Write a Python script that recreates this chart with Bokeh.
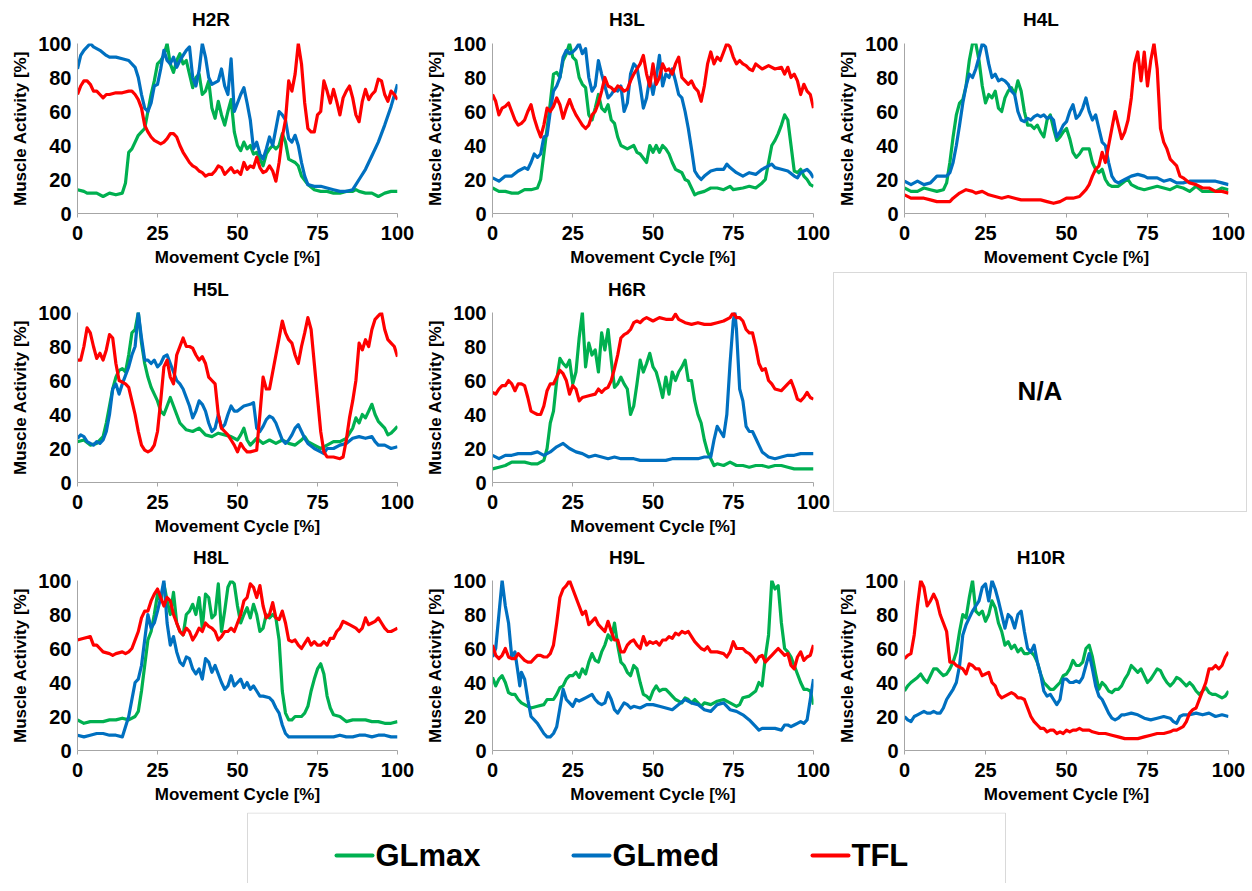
from bokeh.plotting import figure
from bokeh.layouts import column, row
from bokeh.models import Range1d, FixedTicker, Div
from bokeh.embed import file_html
from bokeh.resources import INLINE
from bokeh.core.properties import value

SERIES = ["GLmax", "GLmed", "TFL"]
COLORS = ["#00b050", "#0070c0", "#ff0000"]
X_TICKS = [0, 25, 50, 75, 100]
Y_TICKS = [0, 20, 40, 60, 80, 100]
X_LABEL = "Movement Cycle [%]"
Y_LABEL = "Muscle Activity [%]"
NA_TEXT = "N/A"

# ---- data: (movement cycle %, muscle activity %) ----
H2R_GLMAX = [(0,14),(2,13),(3,12),(6,12),(8,10),(10,12),(12,11),(14,12),(15,18),(16,36),(17,38),(18,42),(19,46),(20,48),(21,50),(22,60),(23,70),(24,78),(25,88),(26,90),(27,93),(28,100),(29,88),(30,83),(31,90),(32,94),(33,88),(34,90),(35,82),(36,74),(37,80),(38,82),(39,70),(40,72),(41,78),(42,62),(43,56),(44,66),(45,58),(46,52),(47,60),(48,67),(49,48),(50,40),(51,37),(52,42),(53,38),(54,40),(55,35),(56,36),(57,32),(58,28),(59,35),(60,38),(61,40),(62,38),(63,40),(64,47),(65,42),(66,32),(67,31),(68,30),(69,28),(70,22),(72,17),(74,14),(76,13),(78,13),(80,12),(82,12),(84,13),(86,13),(87,14),(88,13),(90,12),(92,12),(94,10),(95,11),(96,12),(98,13),(100,13)]
H2R_GLMED = [(0,85),(1,93),(2,96),(4,100),(5,98),(7,96),(9,93),(10,92),(12,92),(14,91),(16,90),(18,86),(19,80),(20,70),(21,62),(22,60),(23,65),(24,75),(25,76),(26,85),(27,96),(28,90),(29,88),(30,92),(31,86),(32,90),(33,93),(34,96),(35,98),(36,80),(37,75),(38,84),(39,100),(40,92),(41,80),(42,76),(43,77),(44,78),(45,85),(46,75),(47,70),(48,91),(49,60),(50,65),(51,70),(52,74),(53,65),(54,55),(55,38),(56,42),(57,35),(58,32),(59,38),(60,45),(61,40),(62,50),(63,60),(64,58),(65,55),(66,44),(67,42),(68,46),(69,40),(70,30),(71,22),(72,17),(74,16),(76,16),(78,15),(80,14),(82,13),(84,13),(86,14),(88,20),(90,26),(92,34),(94,42),(96,52),(98,63),(100,76)]
H2R_TFL = [(0,70),(1,75),(2,78),(3,78),(4,76),(5,72),(6,72),(7,70),(8,68),(9,70),(10,70),(12,71),(14,71),(16,72),(17,72),(18,70),(19,67),(20,62),(21,52),(22,48),(23,45),(24,43),(25,42),(26,41),(27,42),(28,44),(29,47),(30,47),(31,45),(32,40),(33,36),(34,33),(35,30),(36,28),(37,27),(38,25),(39,24),(40,22),(41,23),(42,23),(43,25),(44,28),(45,27),(46,23),(47,25),(48,27),(49,24),(50,25),(51,23),(52,30),(53,26),(54,28),(55,27),(56,33),(57,27),(58,24),(59,25),(60,28),(61,25),(62,19),(63,30),(64,45),(65,55),(66,78),(67,72),(68,82),(69,100),(70,88),(71,65),(72,50),(73,48),(74,48),(75,58),(76,60),(77,78),(78,72),(79,65),(80,73),(81,66),(82,58),(83,68),(84,72),(85,75),(86,68),(87,58),(88,54),(89,66),(90,73),(91,67),(92,70),(93,72),(94,79),(95,78),(96,70),(97,66),(98,72),(99,70),(100,67)]

H3L_GLMAX = [(0,15),(2,13),(4,13),(6,12),(8,12),(10,14),(12,14),(14,15),(15,20),(16,35),(17,50),(18,65),(19,82),(20,83),(21,80),(22,90),(23,94),(24,100),(25,92),(26,90),(27,80),(28,76),(29,74),(30,58),(31,55),(32,62),(33,70),(34,62),(35,60),(36,64),(37,55),(38,53),(39,45),(40,40),(42,38),(44,40),(45,36),(46,35),(48,30),(49,40),(50,36),(51,40),(52,36),(53,40),(54,38),(55,35),(56,30),(57,26),(58,25),(59,24),(60,20),(61,19),(62,15),(63,11),(64,12),(66,13),(68,15),(70,15),(72,14),(74,16),(75,14),(78,15),(80,16),(82,15),(84,18),(85,20),(86,30),(87,40),(88,43),(89,47),(90,52),(91,58),(92,55),(93,40),(94,25),(95,24),(96,26),(97,22),(98,20),(99,17),(100,16)]
H3L_GLMED = [(0,21),(2,19),(4,22),(6,22),(8,25),(10,27),(11,26),(12,30),(13,35),(14,33),(15,35),(16,45),(17,46),(18,60),(19,72),(20,75),(21,80),(22,92),(23,96),(24,94),(25,95),(26,97),(27,100),(28,94),(29,97),(30,80),(31,72),(32,75),(33,90),(34,82),(35,75),(36,68),(37,70),(38,73),(39,72),(40,75),(41,60),(42,65),(43,82),(44,88),(45,86),(46,75),(47,62),(48,68),(49,80),(50,70),(51,80),(52,93),(53,75),(54,82),(55,80),(56,85),(57,78),(58,70),(59,68),(60,60),(61,50),(62,38),(63,25),(64,22),(65,20),(66,22),(68,25),(70,26),(72,26),(73,29),(74,27),(76,24),(78,22),(80,24),(82,23),(84,26),(86,28),(87,29),(88,27),(90,26),(92,25),(94,22),(95,21),(96,24),(97,25),(98,26),(99,24),(100,21)]
H3L_TFL = [(0,70),(1,66),(2,58),(3,62),(4,63),(5,65),(6,60),(7,55),(8,52),(9,53),(10,55),(11,60),(12,64),(13,56),(14,50),(15,45),(16,52),(17,62),(18,60),(19,63),(20,68),(21,64),(22,56),(23,62),(24,67),(25,62),(26,58),(27,55),(28,52),(29,50),(30,52),(31,58),(32,60),(33,65),(34,72),(35,80),(36,75),(37,74),(38,72),(39,75),(40,74),(41,72),(42,73),(43,78),(44,82),(45,85),(46,88),(47,93),(48,82),(49,75),(50,88),(51,76),(52,80),(53,88),(54,84),(55,85),(56,82),(57,88),(58,92),(59,80),(60,78),(61,76),(62,78),(63,74),(64,72),(65,66),(66,75),(67,88),(68,95),(69,88),(70,92),(71,90),(72,95),(73,100),(74,98),(75,92),(76,88),(77,90),(78,88),(79,87),(80,85),(81,84),(82,88),(84,85),(86,87),(88,85),(90,86),(91,82),(92,86),(93,80),(94,82),(95,78),(96,70),(97,76),(98,72),(99,70),(100,62)]

H4L_GLMAX = [(0,15),(2,13),(4,13),(6,15),(8,14),(10,13),(12,14),(13,18),(14,30),(15,45),(16,58),(17,65),(18,67),(19,75),(20,90),(21,100),(22,100),(23,90),(24,75),(25,65),(26,70),(27,68),(28,72),(29,62),(30,60),(31,68),(32,72),(33,74),(34,70),(35,78),(36,72),(37,60),(38,52),(39,52),(40,50),(41,52),(42,48),(43,45),(44,55),(45,58),(46,50),(47,43),(48,45),(49,48),(50,50),(51,44),(52,36),(53,33),(54,35),(55,38),(56,38),(57,38),(58,30),(59,26),(60,24),(61,26),(62,20),(63,17),(64,16),(66,16),(68,19),(69,20),(70,17),(72,15),(74,14),(76,15),(78,16),(80,15),(82,14),(84,16),(86,15),(88,13),(90,16),(92,13),(94,13),(96,13),(98,15),(100,14)]
H4L_GLMED = [(0,19),(2,17),(4,19),(6,17),(8,18),(10,22),(12,22),(13,22),(14,24),(15,30),(16,40),(17,52),(18,65),(19,75),(20,82),(21,80),(22,85),(23,92),(24,100),(25,98),(26,88),(27,80),(28,82),(29,78),(30,79),(31,78),(32,76),(33,72),(34,70),(35,60),(36,55),(37,54),(38,56),(39,55),(40,57),(41,58),(42,57),(43,58),(44,56),(45,57),(46,55),(47,45),(48,48),(49,52),(50,54),(51,60),(52,64),(53,56),(54,58),(55,62),(56,68),(57,60),(58,55),(59,58),(60,50),(61,42),(62,40),(63,30),(64,22),(65,19),(66,18),(68,20),(70,22),(72,23),(74,22),(75,21),(78,21),(80,19),(82,20),(84,18),(86,18),(88,19),(90,19),(92,19),(94,19),(96,19),(98,18),(100,17)]
H4L_TFL = [(0,11),(2,9),(4,9),(6,9),(8,8),(10,7),(12,7),(14,7),(15,9),(17,12),(19,14),(21,13),(22,12),(24,13),(26,11),(28,10),(30,9),(32,10),(34,9),(36,8),(38,8),(40,8),(42,8),(44,7),(46,6),(48,7),(50,9),(52,9),(54,10),(55,12),(56,14),(57,17),(58,22),(59,26),(60,28),(61,36),(62,30),(63,40),(64,50),(65,60),(66,52),(67,44),(68,48),(69,55),(70,68),(71,88),(72,95),(73,78),(74,95),(75,75),(76,90),(77,100),(78,85),(79,50),(80,42),(81,38),(82,32),(83,30),(84,28),(85,22),(86,21),(88,18),(90,17),(92,15),(94,15),(96,13),(98,13),(100,12)]

H5L_GLMAX = [(0,24),(2,25),(4,22),(6,23),(8,27),(9,35),(10,45),(11,55),(12,62),(13,66),(14,67),(15,65),(16,75),(17,88),(18,90),(19,100),(20,82),(21,70),(22,62),(23,56),(24,52),(25,48),(26,42),(27,40),(28,45),(29,50),(30,45),(31,40),(32,35),(34,31),(36,30),(38,32),(40,28),(42,27),(44,29),(46,28),(48,27),(50,25),(51,28),(52,32),(53,25),(54,22),(56,26),(58,23),(60,25),(62,23),(64,25),(66,23),(68,22),(70,25),(71,27),(72,24),(74,22),(76,20),(78,22),(80,24),(82,24),(84,26),(86,32),(87,38),(88,35),(89,40),(90,38),(91,42),(92,46),(93,40),(94,36),(96,32),(97,28),(98,29),(99,31),(100,33)]
H5L_GLMED = [(0,26),(1,28),(2,27),(3,24),(4,23),(5,22),(6,24),(7,23),(8,25),(9,30),(10,40),(11,55),(12,58),(13,52),(14,58),(15,63),(16,68),(17,75),(18,80),(19,100),(20,85),(21,72),(22,72),(23,70),(24,72),(25,68),(26,70),(27,74),(28,75),(29,70),(30,65),(31,60),(32,58),(33,55),(34,50),(35,45),(36,38),(37,42),(38,48),(39,46),(40,42),(41,35),(42,30),(43,32),(44,40),(45,32),(46,34),(47,40),(48,45),(49,42),(50,42),(52,45),(54,46),(55,47),(56,32),(57,30),(58,33),(59,37),(60,39),(61,38),(62,35),(63,30),(64,25),(65,23),(66,25),(67,28),(68,32),(69,34),(70,30),(71,26),(72,23),(74,20),(76,18),(77,17),(78,20),(80,20),(82,22),(84,23),(86,26),(88,27),(90,26),(92,27),(93,24),(94,22),(96,22),(98,20),(100,21)]
H5L_TFL = [(0,72),(1,72),(2,80),(3,91),(4,88),(5,80),(6,73),(7,76),(8,72),(9,78),(10,87),(11,85),(12,70),(13,60),(14,59),(15,58),(16,56),(17,48),(18,40),(19,30),(20,22),(21,19),(22,18),(23,19),(24,22),(25,30),(26,48),(27,68),(28,72),(29,62),(30,58),(31,75),(32,80),(33,85),(34,80),(35,80),(36,79),(37,75),(38,72),(39,74),(40,70),(41,62),(42,60),(43,58),(44,40),(45,32),(46,30),(47,28),(48,25),(49,22),(50,18),(51,23),(52,20),(53,18),(54,18),(56,19),(57,40),(58,62),(59,55),(60,55),(61,65),(62,75),(63,85),(64,95),(65,88),(66,84),(67,82),(68,75),(69,70),(70,80),(71,88),(72,97),(73,90),(74,70),(75,50),(76,30),(77,18),(78,15),(80,15),(82,14),(83,15),(84,25),(85,38),(86,48),(87,60),(88,82),(89,78),(90,84),(91,80),(92,90),(93,96),(94,98),(95,100),(96,90),(97,84),(98,82),(99,80),(100,74)]

H6R_GLMAX = [(0,8),(2,9),(4,10),(6,12),(8,12),(10,12),(12,11),(14,11),(16,13),(17,20),(18,35),(19,42),(20,60),(21,73),(22,70),(23,68),(24,72),(25,58),(26,65),(27,85),(28,100),(29,68),(30,82),(31,75),(32,78),(33,65),(34,88),(35,78),(36,90),(37,72),(38,56),(39,58),(40,62),(41,58),(42,55),(43,40),(44,45),(45,58),(46,72),(47,65),(48,70),(49,76),(50,68),(51,65),(52,58),(53,50),(54,62),(55,52),(56,65),(57,60),(58,65),(59,68),(60,72),(61,60),(62,60),(63,48),(64,40),(65,35),(66,25),(67,18),(68,14),(69,10),(70,11),(72,10),(74,12),(76,10),(78,10),(80,9),(82,10),(84,10),(86,9),(88,10),(90,10),(92,9),(94,8),(96,8),(98,8),(100,8)]
H6R_GLMED = [(0,16),(2,14),(4,16),(6,16),(8,17),(10,17),(12,17),(14,18),(16,16),(18,18),(20,21),(22,23),(24,20),(26,18),(28,17),(30,15),(32,16),(34,15),(36,14),(38,15),(40,14),(42,14),(44,14),(46,13),(48,13),(50,13),(52,13),(54,13),(56,14),(58,14),(60,14),(62,14),(64,14),(66,15),(68,15),(69,25),(70,33),(71,30),(72,27),(73,40),(74,70),(75,95),(75.5,100),(76,90),(77,55),(78,48),(79,33),(80,30),(81,30),(82,26),(83,22),(84,18),(86,15),(88,14),(90,15),(92,16),(94,16),(96,17),(98,17),(100,17)]
H6R_TFL = [(0,53),(1,52),(2,55),(3,57),(4,57),(5,60),(6,58),(7,54),(8,58),(9,58),(10,57),(11,50),(12,42),(13,41),(14,40),(15,40),(16,45),(17,54),(18,58),(19,58),(20,62),(21,66),(22,64),(23,60),(24,52),(25,57),(26,55),(27,48),(28,50),(30,51),(32,52),(33,55),(34,53),(35,55),(36,56),(37,60),(38,67),(39,75),(40,85),(41,87),(42,88),(43,90),(44,94),(45,95),(46,94),(47,96),(48,97),(50,95),(52,97),(54,96),(56,96),(57,99),(58,96),(60,94),(62,93),(64,94),(66,93),(68,93),(70,94),(72,95),(74,97),(75,100),(76,97),(77,97),(78,95),(79,90),(80,88),(81,88),(82,80),(83,70),(84,66),(85,67),(86,60),(87,58),(88,55),(90,54),(92,58),(93,60),(94,55),(95,49),(96,48),(97,50),(98,53),(99,50),(100,49)]

H8L_GLMAX = [(0,18),(2,16),(4,17),(6,17),(8,17),(10,18),(12,18),(14,19),(16,18),(18,20),(19,23),(20,35),(21,50),(22,65),(23,70),(24,80),(25,92),(26,88),(27,98),(28,88),(29,80),(30,93),(31,75),(32,70),(33,68),(34,80),(35,82),(36,86),(37,80),(38,90),(39,72),(40,92),(41,90),(42,78),(43,80),(44,98),(45,70),(46,82),(47,96),(48,100),(49,98),(50,85),(51,75),(52,80),(53,84),(54,78),(55,86),(56,80),(57,70),(58,72),(59,80),(60,78),(61,80),(62,78),(63,65),(64,35),(65,22),(66,18),(67,18),(68,20),(70,20),(71,22),(72,26),(73,35),(74,42),(75,48),(76,51),(77,45),(78,32),(79,25),(80,21),(82,20),(84,17),(86,18),(88,18),(90,18),(92,17),(94,17),(96,16),(98,16),(100,17)]
H8L_GLMED = [(0,9),(2,8),(4,9),(6,10),(8,10),(10,9),(12,9),(14,8),(15,14),(16,20),(17,30),(18,40),(19,42),(20,50),(21,65),(22,80),(23,72),(24,75),(25,82),(26,90),(27,100),(28,75),(29,62),(30,67),(31,58),(32,52),(33,50),(34,55),(35,54),(36,48),(37,45),(38,48),(39,42),(40,54),(41,52),(42,46),(43,50),(44,45),(45,40),(46,36),(47,38),(48,44),(49,38),(50,40),(51,42),(52,37),(53,40),(54,36),(55,38),(56,35),(57,32),(58,32),(60,31),(61,29),(62,25),(63,22),(64,15),(65,10),(66,8),(68,8),(70,8),(72,8),(74,8),(76,8),(78,8),(80,8),(82,9),(84,8),(86,8),(88,9),(90,9),(92,8),(94,9),(96,9),(98,8),(100,8)]
H8L_TFL = [(0,65),(2,66),(4,67),(5,62),(6,62),(7,60),(8,58),(10,57),(11,56),(12,57),(14,58),(15,57),(16,58),(17,60),(18,65),(19,70),(20,78),(21,82),(22,82),(23,88),(24,92),(25,95),(26,90),(27,85),(28,90),(29,88),(30,80),(31,75),(32,70),(33,68),(34,72),(35,70),(36,65),(37,68),(38,72),(39,70),(40,75),(41,73),(42,72),(43,70),(44,65),(45,67),(46,70),(47,70),(48,72),(49,70),(50,75),(51,80),(52,88),(53,90),(54,98),(55,96),(56,90),(57,97),(58,85),(59,78),(60,80),(61,87),(62,78),(63,77),(64,82),(65,75),(66,65),(67,64),(68,65),(69,62),(70,60),(71,63),(72,66),(73,62),(74,64),(75,62),(76,62),(77,64),(78,62),(79,66),(80,66),(81,70),(82,72),(83,76),(84,75),(85,74),(86,73),(87,72),(88,70),(89,72),(90,78),(91,74),(92,75),(93,76),(94,78),(95,75),(96,72),(97,70),(98,70),(99,71),(100,72)]

H9L_GLMAX = [(0,43),(1,38),(2,42),(3,44),(4,40),(5,34),(6,33),(7,33),(8,30),(9,28),(10,27),(12,25),(14,26),(16,27),(17,30),(19,30),(20,33),(21,37),(22,38),(23,42),(24,44),(25,44),(26,46),(27,43),(28,48),(29,45),(30,52),(31,57),(32,53),(33,52),(34,58),(35,62),(36,68),(37,65),(38,75),(39,62),(40,52),(41,50),(42,46),(43,44),(44,50),(45,48),(46,40),(47,33),(48,32),(49,30),(50,35),(51,38),(52,35),(53,36),(54,36),(55,34),(56,32),(57,30),(58,29),(59,28),(60,31),(61,30),(62,28),(63,30),(64,28),(65,26),(66,28),(68,27),(70,29),(72,30),(74,28),(76,26),(77,27),(78,31),(80,32),(82,35),(83,40),(84,38),(85,55),(86,68),(87,100),(88,95),(89,97),(90,75),(91,60),(92,58),(93,55),(94,50),(95,45),(96,40),(97,36),(98,36),(99,35),(100,27)]
H9L_GLMED = [(0,55),(1,60),(2,80),(3,100),(4,85),(5,75),(6,55),(7,58),(8,45),(8.5,38),(9,46),(10,42),(11,30),(12,20),(13,18),(14,16),(15,13),(16,10),(17,8),(18,8),(19,10),(20,14),(21,25),(22,36),(23,30),(24,28),(25,26),(26,30),(27,29),(28,30),(29,31),(30,32),(31,33),(32,30),(33,28),(34,27),(35,28),(36,34),(37,30),(38,24),(39,22),(40,25),(41,28),(42,27),(43,25),(44,26),(46,25),(48,27),(50,27),(52,26),(54,25),(56,24),(58,27),(60,30),(62,28),(64,27),(66,24),(68,23),(70,27),(72,28),(74,24),(76,23),(78,21),(80,18),(82,14),(83,12),(84,13),(86,13),(88,13),(90,12),(91,15),(92,15),(93,14),(94,15),(95,16),(96,17),(97,16),(98,18),(99,30),(100,42)]
H9L_TFL = [(0,62),(1,56),(2,54),(3,56),(4,60),(5,55),(6,54),(7,54),(8,57),(9,55),(10,53),(11,52),(12,52),(13,54),(14,56),(15,56),(16,55),(17,55),(18,57),(19,62),(20,75),(21,90),(22,95),(23,97),(24,100),(25,95),(26,90),(27,85),(28,80),(29,82),(30,74),(31,76),(32,78),(33,74),(34,72),(35,70),(36,76),(37,70),(38,65),(39,65),(40,58),(41,58),(42,62),(43,64),(44,65),(45,62),(46,60),(47,67),(48,62),(49,64),(50,63),(51,64),(52,62),(53,65),(54,65),(55,67),(56,66),(57,69),(58,68),(59,70),(60,69),(61,70),(62,67),(63,64),(64,62),(65,60),(66,59),(67,61),(68,58),(70,58),(72,57),(73,55),(74,58),(75,64),(76,60),(78,60),(79,58),(80,57),(81,55),(82,52),(83,55),(84,56),(85,52),(86,54),(87,56),(88,58),(89,60),(90,58),(91,56),(92,57),(93,50),(94,48),(95,55),(96,58),(97,53),(98,55),(99,56),(100,62)]

H10R_GLMAX = [(0,35),(1,38),(2,40),(4,43),(5,45),(6,42),(7,40),(8,44),(9,48),(10,48),(11,46),(12,44),(13,45),(14,48),(15,52),(16,58),(17,70),(18,80),(19,78),(20,90),(21,100),(22,82),(23,80),(24,82),(25,76),(26,80),(27,88),(28,84),(29,75),(30,70),(31,62),(32,64),(33,60),(34,62),(35,58),(36,60),(37,57),(38,57),(39,58),(40,56),(41,52),(42,45),(43,40),(44,38),(45,36),(46,36),(47,38),(48,40),(49,44),(50,45),(51,48),(52,53),(53,50),(54,50),(55,52),(56,60),(57,62),(58,55),(59,45),(60,36),(61,40),(62,38),(63,35),(64,34),(65,36),(66,36),(67,38),(68,42),(69,45),(70,50),(71,48),(72,46),(73,48),(74,44),(75,40),(76,42),(77,45),(78,48),(79,47),(80,43),(81,40),(82,38),(83,40),(84,43),(85,42),(86,40),(87,38),(88,40),(89,38),(90,35),(91,33),(92,35),(93,37),(94,34),(95,33),(96,33),(97,32),(98,31),(99,32),(100,35)]
H10R_GLMED = [(0,20),(1,18),(2,17),(3,20),(4,21),(5,22),(6,23),(7,22),(8,22),(9,23),(10,22),(11,22),(12,25),(13,30),(14,33),(15,36),(16,40),(17,50),(18,68),(19,74),(20,78),(21,82),(22,85),(23,88),(24,96),(25,98),(26,88),(27,100),(28,95),(29,88),(30,80),(31,72),(32,80),(33,78),(34,72),(35,80),(36,82),(37,70),(38,60),(39,58),(40,62),(41,52),(42,45),(43,35),(44,32),(45,33),(46,30),(47,27),(48,30),(49,42),(50,42),(51,40),(52,40),(53,41),(54,40),(55,43),(56,50),(57,57),(58,48),(59,38),(60,32),(61,30),(62,26),(63,22),(64,19),(65,18),(66,19),(67,21),(68,21),(70,22),(72,21),(74,19),(76,18),(78,19),(80,20),(82,19),(83,17),(84,16),(85,20),(86,21),(88,21),(90,22),(92,21),(94,22),(96,20),(98,21),(100,20)]
H10R_TFL = [(0,54),(1,56),(2,57),(3,68),(4,85),(5,100),(6,96),(7,85),(8,88),(9,92),(10,88),(11,80),(12,75),(13,70),(14,52),(15,52),(16,50),(17,49),(18,48),(19,45),(20,51),(21,50),(22,48),(23,48),(24,44),(25,45),(26,46),(27,40),(28,38),(29,33),(30,31),(31,32),(32,33),(33,34),(34,33),(35,31),(36,31),(37,30),(38,25),(39,20),(40,17),(41,15),(42,13),(43,13),(44,11),(45,12),(46,12),(47,10),(48,11),(49,10),(50,12),(51,11),(52,12),(53,12),(54,13),(55,12),(56,12),(57,12),(58,11),(60,10),(62,10),(64,9),(66,8),(68,7),(70,7),(72,7),(74,8),(76,9),(78,10),(80,10),(82,11),(83,12),(84,12),(86,14),(87,17),(88,22),(89,24),(90,25),(91,30),(92,35),(93,40),(94,48),(95,48),(96,50),(97,48),(98,50),(99,55),(100,58)]

FONT = "Liberation Sans"
AXIS_GRAY = "#a6a6a6"
ROW_H = 268
FRAME_H = 170
COL_W = [415, 410, 417]
FRAME_L = [65, 65, 71]
FRAME_R = [389, 390, 395]
TITLE_CX = [203, 204, 208]   # title centre within each column (px)


def make_panel(name, data, col, frame_top, title_cy, title_h):
    w = COL_W[col]
    fh = ROW_H - title_h
    top = frame_top - title_h
    title = Div(text=('<div style="width:%dpx;height:%dpx;line-height:%dpx;text-align:center;'
                      'font-family:\'Liberation Sans\',Arial,sans-serif;font-weight:bold;'
                      'font-size:19px;color:#000000;white-space:nowrap;">%s</div>')
                % (2 * TITLE_CX[col], title_h, 2 * title_cy, name),
                width=w, height=title_h, margin=0)
    p = figure(width=w, height=fh, x_range=Range1d(0, 100), y_range=Range1d(0, 100),
               output_backend="svg", toolbar_location=None,
               min_border_left=FRAME_L[col], min_border_right=w - FRAME_R[col],
               min_border_top=top, min_border_bottom=fh - top - FRAME_H)
    p.outline_line_color = None
    p.xgrid.visible = False
    p.ygrid.visible = False
    p.background_fill_color = "white"
    p.border_fill_color = "white"
    p.xaxis.ticker = FixedTicker(ticks=X_TICKS)
    p.yaxis.ticker = FixedTicker(ticks=Y_TICKS)
    p.xaxis.axis_label = X_LABEL
    p.yaxis.axis_label = Y_LABEL
    for ax in (p.xaxis, p.yaxis):
        ax.axis_line_color = AXIS_GRAY
        ax.axis_line_width = 1
        ax.major_tick_line_color = AXIS_GRAY
        ax.minor_tick_line_color = None
        ax.major_label_text_font = FONT
        ax.major_label_text_font_size = "20px"
        ax.major_label_text_font_style = "bold"
        ax.major_label_text_color = "#000000"
        ax.axis_label_text_font = FONT
        ax.axis_label_text_font_size = "17px"
        ax.axis_label_text_font_style = "bold"
        ax.axis_label_text_color = "#000000"
    p.xaxis.major_tick_out = 4
    p.xaxis.major_tick_in = 0
    p.xaxis.major_label_standoff = 8
    p.xaxis.axis_label_standoff = 5
    p.yaxis.major_tick_out = 0
    p.yaxis.major_tick_in = 0
    p.yaxis.major_label_standoff = 6
    p.yaxis.axis_label_standoff = 5
    for (pts, color) in zip(data, COLORS):
        xs = [a for a, b in pts]
        ys = [b for a, b in pts]
        p.line(xs, ys, line_color=color, line_width=3.2, line_join="round")
    return column(title, p, spacing=0, margin=0)


p1 = make_panel("H2R", (H2R_GLMAX, H2R_GLMED, H2R_TFL), 0, 35, 12, 20)
p2 = make_panel("H3L", (H3L_GLMAX, H3L_GLMED, H3L_TFL), 1, 35, 12, 20)
p3 = make_panel("H4L", (H4L_GLMAX, H4L_GLMED, H4L_TFL), 2, 35, 12, 20)
p4 = make_panel("H5L", (H5L_GLMAX, H5L_GLMED, H5L_TFL), 0, 36, 14, 22)
p5 = make_panel("H6R", (H6R_GLMAX, H6R_GLMED, H6R_TFL), 1, 36, 14, 22)
p7 = make_panel("H8L", (H8L_GLMAX, H8L_GLMED, H8L_TFL), 0, 36, 14, 22)
p8 = make_panel("H9L", (H9L_GLMAX, H9L_GLMED, H9L_TFL), 1, 36, 14, 22)
p9 = make_panel("H10R", (H10R_GLMAX, H10R_GLMED, H10R_TFL), 2, 36, 14, 22)

# N/A placeholder panel (no data for this subject)
na_html = ('<div style="box-sizing:border-box;width:414px;height:240px;margin-top:-4px;'
           'border:1px solid #d9d9d9;display:flex;align-items:center;justify-content:center;'
           'font-family:\'Liberation Sans\',Arial,sans-serif;font-weight:bold;font-size:26px;'
           'color:#000000;background:#ffffff;">' + NA_TEXT + '</div>')
pna = Div(text=na_html, width=COL_W[2], height=ROW_H, margin=0)

# legend strip
LW = sum(COL_W)
LH = 71
leg = figure(width=LW, height=LH, x_range=Range1d(0, LW), y_range=Range1d(0, LH),
             output_backend="svg", toolbar_location=None, x_axis_type=None, y_axis_type=None,
             min_border=0)
leg.outline_line_color = None
leg.xgrid.visible = False
leg.ygrid.visible = False
leg.line([239, 239, 997, 997], [-20, 70.5, 70.5, -20], line_color="#d9d9d9", line_width=1)
SW_X = [328, 565, 804]
for name, color, x0 in zip(SERIES, COLORS, SW_X):
    leg.line([x0, x0 + 36], [28, 28], line_color=color, line_width=4, line_cap="round")
    leg.text(x=[x0 + 39], y=[28], text=[name], text_font=value(FONT), text_font_size="31px",
             text_font_style="bold", text_color="#000000", text_align="left", text_baseline="middle")

layout = column(row(p1, p2, p3, spacing=0), row(p4, p5, pna, spacing=0),
                row(p7, p8, p9, spacing=0), leg, spacing=0)
layout.margin = (8, 0, 0, 8)
open("out.html", "w").write(file_html(layout, INLINE))
